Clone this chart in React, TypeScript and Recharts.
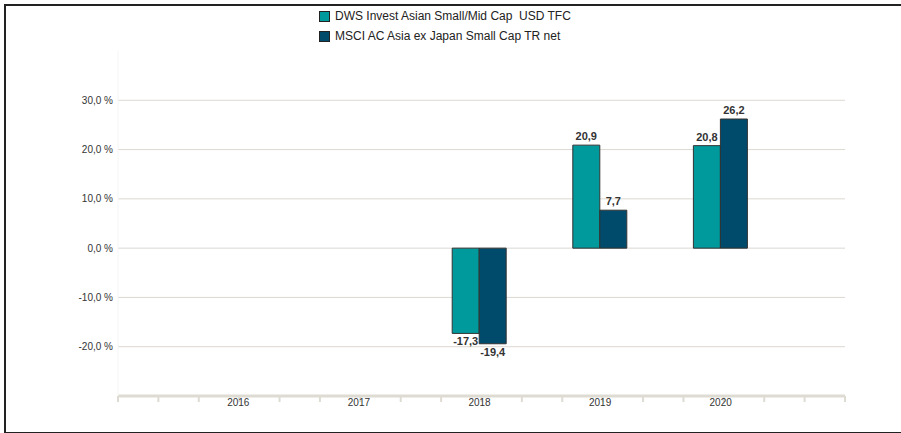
import React from 'react';
import { BarChart, Bar, XAxis, YAxis, CartesianGrid, LabelList } from 'recharts';

const years = ['2016', '2017', '2018', '2019', '2020'];
const dwsValues: (number | null)[] = [null, null, -17.3, 20.9, 20.8];
const msciValues: (number | null)[] = [null, null, -19.4, 7.7, 26.2];
const yTicks = [-20, -10, 0, 10, 20, 30];
const minorTicks = [0, 1, 2, 3, 4, 5, 6, 7, 8, 9, 10, 11, 12, 13, 14, 15, 16, 17, 18];

const DWS_NAME = 'DWS Invest Asian Small/Mid Cap  USD TFC';
const MSCI_NAME = 'MSCI AC Asia ex Japan Small Cap TR net';
const TEAL = '#00999c';
const NAVY = '#004a6b';
const FONT = '"Liberation Sans", Arial, sans-serif';

const data = years.map((year, i) => ({ year, dws: dwsValues[i], msci: msciValues[i] }));

const fmt = (v: number) => v.toFixed(1).replace('.', ',');

const ValueLabel = (props: any) => {
  const { x, y, width, height, value } = props;
  if (value === null || value === undefined) return null;
  const top = Math.min(y, y + height);
  const bottom = Math.max(y, y + height);
  const cx = x + width / 2;
  return (
    <text
      x={cx}
      y={value >= 0 ? top - 5 : bottom + 12}
      textAnchor="middle"
      fontSize={11}
      fontWeight="bold"
      fill="#333"
      fontFamily={FONT}
    >
      {fmt(value)}
    </text>
  );
};

const LegendBox = () => (
  <div style={{ position: 'absolute', left: 319, top: 6, fontFamily: FONT, fontSize: 12, color: '#222' }}>
    {[
      { name: DWS_NAME, color: TEAL },
      { name: MSCI_NAME, color: NAVY },
    ].map((item) => (
      <div key={item.name} style={{ display: 'flex', alignItems: 'center', height: 20 }}>
        <span
          style={{
            display: 'inline-block',
            width: 9,
            height: 9,
            background: item.color,
            border: '1px solid #222',
            marginRight: 5,
          }}
        />
        <span style={{ whiteSpace: 'pre' }}>{item.name}</span>
      </div>
    ))}
  </div>
);

export default function App() {
  return (
    <div
      style={{
        position: 'absolute',
        left: 0,
        top: 0,
        width: 901,
        height: 433,
        background: '#fff',
        overflow: 'hidden',
      }}
    >
      <div
        style={{
          position: 'absolute',
          left: 4,
          top: 4,
          width: 920,
          height: 426,
          borderTop: '2px solid #222',
          borderLeft: '2px solid #222',
          borderBottom: '2px solid #222',
        }}
      />
      <BarChart
        width={901}
        height={433}
        data={data}
        margin={{ top: 51, right: 56, bottom: 7, left: 0 }}
        barGap={0}
        barSize={27}
        style={{ position: 'absolute', left: 0, top: 0 }}
      >
        <CartesianGrid vertical={false} horizontalValues={yTicks} stroke="#dcd9d2" />
        {/* tick-only axis: 3 minor ticks per year slot */}
        <XAxis
          type="number"
          dataKey="dws"
          domain={[0, 18]}
          allowDataOverflow
          ticks={minorTicks}
          interval={0}
          tickFormatter={() => ''}
          height={1}
          axisLine={{ stroke: '#dedbd3', strokeWidth: 3 }}
          tickLine={{ stroke: '#dedbd3', strokeWidth: 2 }}
          tickSize={6}
        />
        <XAxis
          xAxisId="cat"
          dataKey="year"
          height={29}
          padding={{ left: 60, right: 64 }}
          axisLine={false}
          tickLine={false}
          tickSize={0}
          tickMargin={2}
          tick={{ fontSize: 10, fill: '#333', fontFamily: FONT }}
        />
        <YAxis
          width={118}
          domain={[-30, 40]}
          ticks={yTicks}
          tickFormatter={(v: number) => `${fmt(v)} %`}
          axisLine={{ stroke: '#f5f5f5' }}
          tickLine={false}
          tickSize={0}
          tickMargin={5}
          tick={{ fontSize: 10, fill: '#333', fontFamily: FONT }}
        />
        <Bar xAxisId="cat" dataKey="dws" name={DWS_NAME} fill={TEAL} stroke="#333" strokeWidth={1} isAnimationActive={false}>
          <LabelList dataKey="dws" content={ValueLabel} />
        </Bar>
        <Bar xAxisId="cat" dataKey="msci" name={MSCI_NAME} fill={NAVY} stroke="#333" strokeWidth={1} isAnimationActive={false}>
          <LabelList dataKey="msci" content={ValueLabel} />
        </Bar>
      </BarChart>
      <LegendBox />
    </div>
  );
}
